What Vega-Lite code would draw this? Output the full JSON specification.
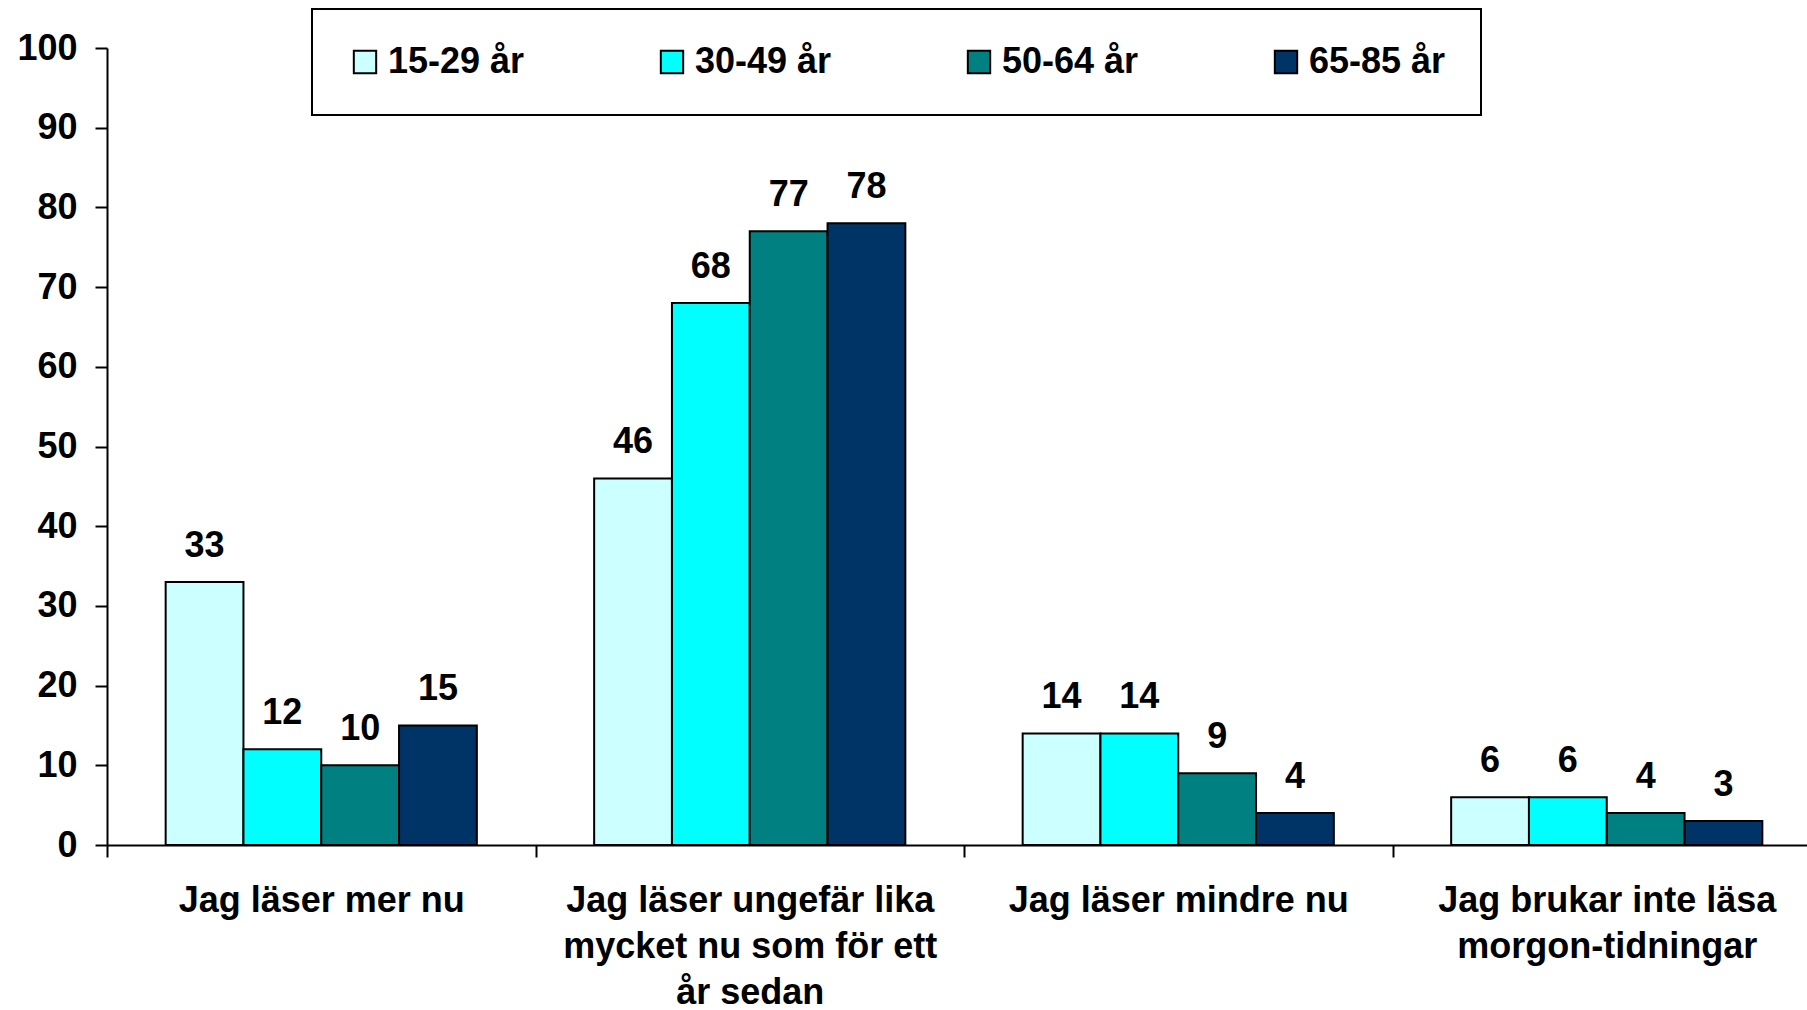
{
  "$schema": "https://vega.github.io/schema/vega-lite/v6.json",
  "autosize": {"type": "none"},
  "padding": {"left": 107, "top": 48, "right": 0, "bottom": 165},
  "width": 1700,
  "height": 797,
  "background": "white",
  "config": {
    "font": "Liberation Sans",
    "view": {"stroke": null},
    "legend": {"strokeWidth": 2}
  },
  "data": {
    "values": [
      {"kategori": "Jag läser mer nu", "grupp": "15-29 år", "andel": 33},
      {"kategori": "Jag läser mer nu", "grupp": "30-49 år", "andel": 12},
      {"kategori": "Jag läser mer nu", "grupp": "50-64 år", "andel": 10},
      {"kategori": "Jag läser mer nu", "grupp": "65-85 år", "andel": 15},
      {"kategori": "Jag läser ungefär lika mycket nu som för ett år sedan", "grupp": "15-29 år", "andel": 46},
      {"kategori": "Jag läser ungefär lika mycket nu som för ett år sedan", "grupp": "30-49 år", "andel": 68},
      {"kategori": "Jag läser ungefär lika mycket nu som för ett år sedan", "grupp": "50-64 år", "andel": 77},
      {"kategori": "Jag läser ungefär lika mycket nu som för ett år sedan", "grupp": "65-85 år", "andel": 78},
      {"kategori": "Jag läser mindre nu", "grupp": "15-29 år", "andel": 14},
      {"kategori": "Jag läser mindre nu", "grupp": "30-49 år", "andel": 14},
      {"kategori": "Jag läser mindre nu", "grupp": "50-64 år", "andel": 9},
      {"kategori": "Jag läser mindre nu", "grupp": "65-85 år", "andel": 4},
      {"kategori": "Jag brukar inte läsa morgon-tidningar", "grupp": "15-29 år", "andel": 6},
      {"kategori": "Jag brukar inte läsa morgon-tidningar", "grupp": "30-49 år", "andel": 6},
      {"kategori": "Jag brukar inte läsa morgon-tidningar", "grupp": "50-64 år", "andel": 4},
      {"kategori": "Jag brukar inte läsa morgon-tidningar", "grupp": "65-85 år", "andel": 3}
    ]
  },
  "encoding": {
    "x": {
      "field": "kategori",
      "type": "nominal",
      "sort": null,
      "scale": {"range": [0, 1714], "paddingInner": 0, "paddingOuter": 0},
      "axis": {
        "title": null,
        "labelAngle": 0,
        "labelFont": "Liberation Sans",
        "labelFontSize": 36,
        "labelFontWeight": "bold",
        "labelColor": "black",
        "labelLineHeight": 46,
        "labelPadding": 26,
        "labelLimit": 0,
        "labelExpr": "datum.value == 'Jag läser ungefär lika mycket nu som för ett år sedan' ? ['Jag läser ungefär lika', 'mycket nu som för ett', 'år sedan'] : datum.value == 'Jag brukar inte läsa morgon-tidningar' ? ['Jag brukar inte läsa', 'morgon-tidningar'] : datum.value",
        "tickBand": "extent",
        "tickSize": 12,
        "tickWidth": 2,
        "tickColor": "black",
        "domainColor": "black",
        "domainWidth": 2,
        "grid": false
      }
    },
    "xOffset": {
      "field": "grupp",
      "type": "nominal",
      "sort": ["15-29 år", "30-49 år", "50-64 år", "65-85 år"],
      "scale": {"paddingInner": 0, "paddingOuter": 0.754}
    },
    "y": {
      "field": "andel",
      "type": "quantitative",
      "scale": {"domain": [0, 100], "nice": false},
      "axis": {
        "title": null,
        "values": [0, 10, 20, 30, 40, 50, 60, 70, 80, 90, 100],
        "labelFontSize": 36,
        "labelFontWeight": "bold",
        "labelColor": "black",
        "labelPadding": 18,
        "tickSize": 12,
        "tickWidth": 2,
        "tickColor": "black",
        "domainColor": "black",
        "domainWidth": 2,
        "grid": false
      }
    }
  },
  "layer": [
    {
      "mark": {"type": "bar", "stroke": "black", "strokeWidth": 2},
      "encoding": {
        "color": {
          "field": "grupp",
          "type": "nominal",
          "scale": {
            "domain": ["15-29 år", "30-49 år", "50-64 år", "65-85 år"],
            "range": ["#CCFFFF", "#00FFFF", "#008080", "#003366"]
          },
          "legend": {
            "title": null,
            "orient": "none",
            "legendX": 205,
            "legendY": -39,
            "direction": "horizontal",
            "columns": 4,
            "columnPadding": 129,
            "padding": 35,
            "fillColor": "white",
            "strokeColor": "black",
            "symbolType": "square",
            "symbolSize": 500,
            "symbolStrokeColor": "black",
            "symbolStrokeWidth": 2,
            "symbolOpacity": 1,
            "labelOffset": 5,
            "labelFontSize": 36,
            "labelFontWeight": "bold",
            "labelColor": "black",
            "labelLimit": 0
          }
        }
      }
    },
    {
      "mark": {
        "type": "text",
        "baseline": "alphabetic",
        "dy": -25,
        "fontSize": 36,
        "fontWeight": "bold",
        "color": "black"
      },
      "encoding": {
        "text": {"field": "andel", "type": "quantitative"}
      }
    }
  ]
}
